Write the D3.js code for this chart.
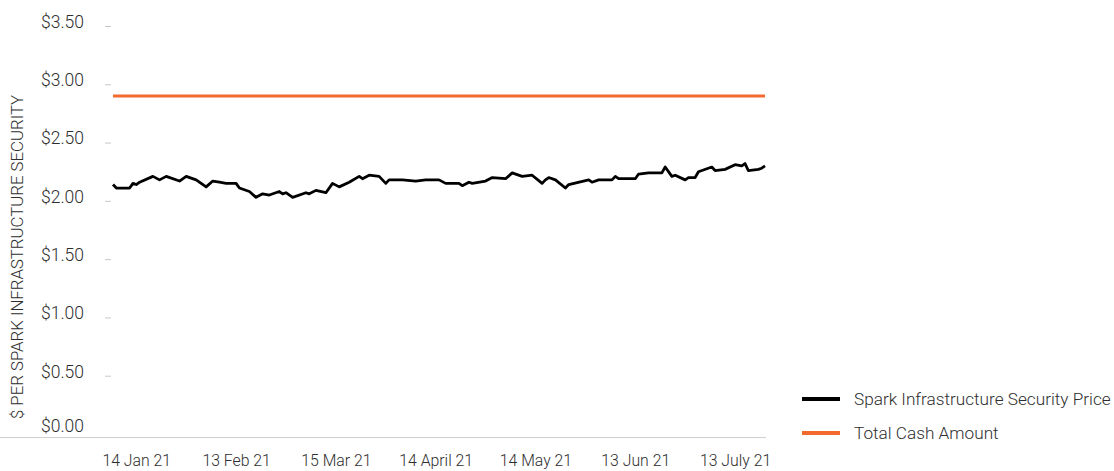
<!DOCTYPE html>
<html>
<head>
<meta charset="utf-8">
<script src="https://cdn.jsdelivr.net/npm/d3@7"></script>
<style>
  body { margin: 0; background: #fff; }
  text { font-family: Roboto, "Liberation Sans", sans-serif; font-weight: 300; fill: #2e2e2e; }
</style>
</head>
<body>
<script>
// Chart data
const priceDates = [
    '2021-01-07', '2021-01-08', '2021-01-12', '2021-01-13', '2021-01-14', '2021-01-15',
    '2021-01-19', '2021-01-21', '2021-01-23', '2021-01-27', '2021-01-29', '2021-02-01',
    '2021-02-04', '2021-02-06', '2021-02-08', '2021-02-10', '2021-02-13', '2021-02-14',
    '2021-02-17', '2021-02-19', '2021-02-21', '2021-02-23', '2021-02-26', '2021-02-27',
    '2021-02-28', '2021-03-02', '2021-03-06', '2021-03-07', '2021-03-09', '2021-03-12',
    '2021-03-14', '2021-03-16', '2021-03-19', '2021-03-22', '2021-03-23', '2021-03-25',
    '2021-03-28', '2021-03-30', '2021-03-31', '2021-04-04', '2021-04-08', '2021-04-11',
    '2021-04-15', '2021-04-17', '2021-04-21', '2021-04-22', '2021-04-24', '2021-04-25',
    '2021-04-29', '2021-05-01', '2021-05-05', '2021-05-07', '2021-05-10', '2021-05-13',
    '2021-05-16', '2021-05-17', '2021-05-18', '2021-05-20', '2021-05-23', '2021-05-24',
    '2021-05-30', '2021-05-31', '2021-06-02', '2021-06-06', '2021-06-07', '2021-06-08',
    '2021-06-13', '2021-06-14', '2021-06-17', '2021-06-20', '2021-06-21', '2021-06-22',
    '2021-06-24', '2021-06-25', '2021-06-28', '2021-06-29', '2021-07-01', '2021-07-02',
    '2021-07-06', '2021-07-07', '2021-07-10', '2021-07-13', '2021-07-15', '2021-07-16',
    '2021-07-17', '2021-07-20', '2021-07-21', '2021-07-22'
];
const priceValues = [
    2.14, 2.11, 2.11, 2.15, 2.14, 2.16,
    2.21, 2.18, 2.21, 2.17, 2.21, 2.18,
    2.12, 2.17, 2.16, 2.15, 2.15, 2.11,
    2.08, 2.03, 2.06, 2.05, 2.08, 2.06,
    2.07, 2.03, 2.07, 2.06, 2.09, 2.07,
    2.15, 2.12, 2.16, 2.21, 2.19, 2.22,
    2.21, 2.15, 2.18, 2.18, 2.17, 2.18,
    2.18, 2.15, 2.15, 2.13, 2.16, 2.15,
    2.17, 2.20, 2.19, 2.24, 2.21, 2.22,
    2.15, 2.18, 2.20, 2.18, 2.11, 2.14,
    2.18, 2.16, 2.18, 2.18, 2.21, 2.19,
    2.19, 2.23, 2.24, 2.24, 2.24, 2.29,
    2.21, 2.22, 2.18, 2.20, 2.20, 2.25,
    2.29, 2.26, 2.27, 2.31, 2.30, 2.32,
    2.26, 2.27, 2.28, 2.30
];
const cashDates = ['2021-01-07', '2021-07-22'];
const cashValues = [2.90, 2.90];

const yTickValues = [0, 0.5, 1, 1.5, 2, 2.5, 3, 3.5];
const xTickDates = ['2021-01-14', '2021-02-13', '2021-03-15', '2021-04-14', '2021-05-14', '2021-06-13', '2021-07-13'];
const xTickLabels = ['14 Jan 21', '13 Feb 21', '15 Mar 21', '14 April 21', '14 May 21', '13 Jun 21', '13 July 21'];

const seriesNames = ['Spark Infrastructure Security Price', 'Total Cash Amount'];
const seriesColors = ['#000000', '#f26a2e'];

const width = 1114;
const height = 471;

const parseDate = d3.timeParse('%Y-%m-%d');

const priceData = priceDates.map((d, i) => ({ date: parseDate(d), value: priceValues[i] }));
const cashData = cashDates.map((d, i) => ({ date: parseDate(d), value: cashValues[i] }));

const svg = d3.select('body')
    .append('svg')
    .attr('width', width)
    .attr('height', height);

const xScale = d3.scaleTime()
    .domain([parseDate('2021-01-07'), parseDate('2021-07-22')])
    .range([113, 765]);

const yScale = d3.scaleLinear()
    .domain([0, 3.5])
    .range([434, 26]);

// y axis: little grey dashes, labels well to the left
const yAxis = svg.append('g')
    .attr('transform', 'translate(111,0)')
    .call(d3.axisLeft(yScale)
        .tickValues(yTickValues)
        .tickSize(6)
        .tickPadding(21)
        .tickFormat(d => '$' + d3.format('.2f')(d)));

yAxis.select('.domain').remove();
yAxis.selectAll('.tick line')
    .attr('stroke', '#c8c8c8')
    .attr('stroke-width', 1)
    .attr('opacity', d => d === 0 ? 0 : 1);
yAxis.selectAll('.tick text')
    .attr('dy', d => d === 0 ? '-0.15em' : '0.08em')
    .style('font-size', '17.5px');

// baseline
svg.append('line')
    .attr('x1', 0)
    .attr('x2', 766)
    .attr('y1', yScale(0) + 3.5)
    .attr('y2', yScale(0) + 3.5)
    .attr('stroke', '#cfcfcf')
    .attr('stroke-width', 1.2);

// x axis labels
const xAxis = svg.append('g')
    .attr('transform', `translate(0, ${yScale(0) + 3.5})`)
    .call(d3.axisBottom(xScale)
        .tickValues(xTickDates.map(parseDate))
        .tickSize(0)
        .tickPadding(17)
        .tickFormat((d, i) => xTickLabels[i]));

xAxis.select('.domain').remove();
xAxis.selectAll('.tick text')
    .style('font-size', '15.8px');

// y axis title
svg.append('text')
    .attr('transform', 'rotate(-90)')
    .attr('x', -257)
    .attr('y', 17)
    .attr('dy', '0.35em')
    .attr('text-anchor', 'middle')
    .style('font-size', '16.8px')
    .text('$ PER SPARK INFRASTRUCTURE SECURITY');

const line = d3.line()
    .x(d => xScale(d.date))
    .y(d => yScale(d.value));

svg.append('path')
    .datum(cashData)
    .attr('fill', 'none')
    .attr('stroke', seriesColors[1])
    .attr('stroke-width', 3)
    .attr('d', line);

svg.append('path')
    .datum(priceData)
    .attr('fill', 'none')
    .attr('stroke', seriesColors[0])
    .attr('stroke-width', 2.8)
    .attr('stroke-linejoin', 'round')
    .attr('d', line);

// legend
const legend = svg.selectAll('.legend')
    .data(seriesNames)
    .enter()
    .append('g')
    .attr('class', 'legend')
    .attr('transform', (d, i) => `translate(802, ${399 + i * 34})`);

legend.append('line')
    .attr('x1', 0)
    .attr('x2', 38)
    .attr('stroke', (d, i) => seriesColors[i])
    .attr('stroke-width', 4);

legend.append('text')
    .attr('x', 52)
    .attr('dy', '0.35em')
    .style('font-size', '17.2px')
    .text(d => d);
</script>
</body>
</html>
